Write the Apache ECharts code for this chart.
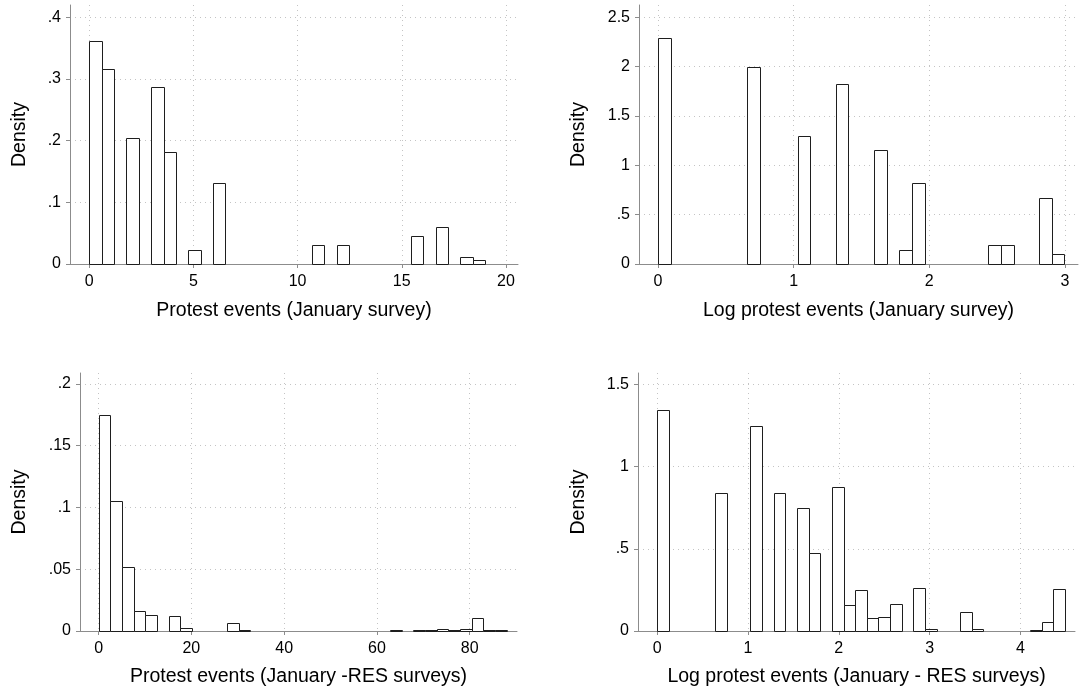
<!DOCTYPE html>
<html><head><meta charset="utf-8">
<script src="https://cdn.jsdelivr.net/npm/echarts@6/dist/echarts.min.js"></script>
<style>html,body{margin:0;padding:0;background:#fff}#c{width:1080px;height:697px}</style>
</head><body><div id="c"></div>
<script>
// ---- Panel 1: Protest events (January survey) — 32 bins over [0, 19]
const p1Range = [0, 19];
const p1BinCount = 32;
const p1Bins = [0, 1, 3, 5, 6, 8, 10, 18, 20, 26, 28, 30, 31];
const p1Density = [0.361, 0.316, 0.204, 0.2876, 0.1816, 0.0222, 0.1308, 0.0308, 0.0308, 0.0454, 0.060, 0.0119, 0.0059];
const p1XTicks = [0, 5, 10, 15, 20];
const p1YTicks = [0, 0.1, 0.2, 0.3, 0.4];
const p1Title = 'Protest events (January survey)';

// ---- Panel 2: Log protest events (January survey) — 32 bins over [0, ln 20]
const p2Range = [0, 2.9957];
const p2BinCount = 32;
const p2Bins = [0, 7, 11, 14, 17, 19, 20, 26, 27, 30, 31];
const p2Density = [2.287, 2.0, 1.294, 1.824, 1.152, 0.145, 0.824, 0.196, 0.196, 0.666, 0.105];
const p2XTicks = [0, 1, 2, 3];
const p2YTicks = [0, 0.5, 1, 1.5, 2, 2.5];
const p2Title = 'Log protest events (January survey)';

// ---- Panel 3: Protest events (January -RES surveys) — 35 bins over [0, 88]
const p3Range = [0, 88];
const p3BinCount = 35;
const p3Bins = [0, 1, 2, 3, 4, 6, 7, 11, 12, 25, 27, 28, 29, 30, 31, 32, 33, 34];
const p3Density = [0.1746, 0.1049, 0.0522, 0.0165, 0.0127, 0.0124, 0.0022, 0.0062, 0.0008, 0.0005, 0.0005, 0.0005, 0.0013, 0.0005, 0.0016, 0.0103, 0.0008, 0.0008];
const p3XTicks = [0, 20, 40, 60, 80];
const p3YTicks = [0, 0.05, 0.1, 0.15, 0.2];
const p3Title = 'Protest events (January -RES surveys)';

// ---- Panel 4: Log protest events (January - RES surveys) — 35 bins over [0, ln 89]
const p4Range = [0, 4.4886];
const p4BinCount = 35;
const p4Bins = [0, 5, 8, 10, 12, 13, 15, 16, 17, 18, 19, 20, 22, 23, 26, 27, 32, 33, 34];
const p4Density = [1.346, 0.838, 1.244, 0.838, 0.745, 0.477, 0.873, 0.156, 0.248, 0.077, 0.087, 0.162, 0.264, 0.012, 0.118, 0.014, 0.004, 0.053, 0.254];
const p4XTicks = [0, 1, 2, 3, 4];
const p4YTicks = [0, 0.5, 1, 1.5];
const p4Title = 'Log protest events (January - RES surveys)';

const yName = 'Density';
const F = '"Liberation Sans", Arial, Helvetica, sans-serif';
const AXIS_COLOR = '#8c8c8c';
const GRID_COLOR = '#c4c4c4';

function yFmt(v) {
  if (v === 0) return '0';
  return String(+v.toFixed(4)).replace(/^0\./, '.');
}

function histSeries(idx, range, n, bins, dens) {
  const w = (range[1] - range[0]) / n;
  const data = bins.map((b, i) => [range[0] + b * w, range[0] + (b + 1) * w, dens[i]]);
  return {
    type: 'custom', xAxisIndex: idx, yAxisIndex: idx, data: data,
    encode: { x: [0, 1], y: 2 }, silent: true, animation: false, clip: false,
    renderItem: function (params, api) {
      const a = api.coord([api.value(0), api.value(2)]);
      const b = api.coord([api.value(1), 0]);
      const x0 = Math.round(a[0]) + 0.5, x1 = Math.round(b[0]) + 0.5;
      const y0 = Math.round(a[1]) + 0.5, y1 = Math.round(b[1]) + 0.5;
      return {
        type: 'rect',
        shape: { x: x0, y: y0, width: x1 - x0, height: y1 - y0 },
        style: { fill: '#fff', stroke: '#1e1e1e', lineWidth: 1 }
      };
    }
  };
}

function xAxis(idx, min, max, ticks, name, gap) {
  return {
    type: 'value', gridIndex: idx, min: min, max: max,
    name: name, nameLocation: 'middle', nameGap: gap,
    nameTextStyle: { fontSize: 19.5, color: '#000', fontFamily: F },
    axisLine: { show: true, onZero: false, lineStyle: { color: AXIS_COLOR, width: 1 } },
    axisTick: { show: true, length: 4, customValues: ticks, lineStyle: { color: AXIS_COLOR } },
    axisLabel: { customValues: ticks, fontSize: 16, color: '#000', margin: 10, fontFamily: F },
    splitLine: { show: true, lineStyle: { color: GRID_COLOR, type: [1, 4], width: 1 } }
  };
}

function yAxis(idx, max, ticks, gap) {
  return {
    type: 'value', gridIndex: idx, min: 0, max: max,
    name: yName, nameLocation: 'middle', nameGap: gap, nameRotate: 90,
    nameTextStyle: { fontSize: 19.5, color: '#000', fontFamily: F },
    axisLine: { show: true, onZero: false, lineStyle: { color: AXIS_COLOR, width: 1 } },
    axisTick: { show: true, length: 4, customValues: ticks, lineStyle: { color: AXIS_COLOR } },
    axisLabel: { customValues: ticks, fontSize: 16, color: '#000', margin: 9, fontFamily: F, formatter: yFmt },
    splitLine: { show: true, lineStyle: { color: GRID_COLOR, type: [1, 4], width: 1 } }
  };
}

const chart = echarts.init(document.getElementById('c'), null, { renderer: 'canvas' });
chart.setOption({
  backgroundColor: '#fff',
  animation: false,
  grid: [
    { left: 70, top: 5, width: 448, height: 259 },
    { left: 639, top: 5, width: 439, height: 259 },
    { left: 80, top: 373, width: 437, height: 258 },
    { left: 638, top: 373, width: 437, height: 258 }
  ],
  xAxis: [
    xAxis(0, -0.927, 20.58, p1XTicks, p1Title, 37),
    xAxis(1, -0.14, 3.096, p2XTicks, p2Title, 37),
    xAxis(2, -4.01, 90.2, p3XTicks, p3Title, 36),
    xAxis(3, -0.21, 4.6, p4XTicks, p4Title, 36)
  ],
  yAxis: [
    yAxis(0, 0.42, p1YTicks, 40),
    yAxis(1, 2.625, p2YTicks, 50),
    yAxis(2, 0.2089, p3YTicks, 50),
    yAxis(3, 1.569, p4YTicks, 49)
  ],
  series: [
    histSeries(0, p1Range, p1BinCount, p1Bins, p1Density),
    histSeries(1, p2Range, p2BinCount, p2Bins, p2Density),
    histSeries(2, p3Range, p3BinCount, p3Bins, p3Density),
    histSeries(3, p4Range, p4BinCount, p4Bins, p4Density)
  ]
});
</script></body></html>
